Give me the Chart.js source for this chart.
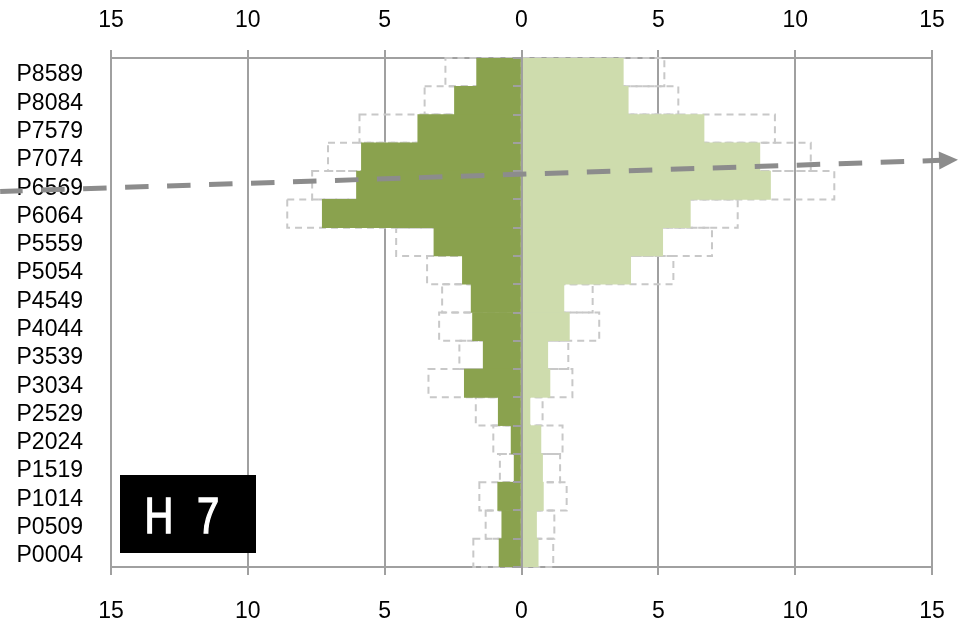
<!DOCTYPE html>
<html>
<head>
<meta charset="utf-8">
<script src="https://cdn.jsdelivr.net/npm/chart.js@4"></script>
<style>
  html, body { margin: 0; padding: 0; background: #fff; }
  #wrap { width: 961px; height: 629px; }
</style>
</head>
<body>
<div id="wrap"><canvas id="pyramid" width="961" height="629"></canvas></div>
<script>
// Classes d'âge (du haut vers le bas)
const ageGroups = ['P8589', 'P8084', 'P7579', 'P7074', 'P6569', 'P6064', 'P5559', 'P5054', 'P4549',
                   'P4044', 'P3539', 'P3034', 'P2529', 'P2024', 'P1519', 'P1014', 'P0509', 'P0004'];

// Côté gauche (vert foncé) : valeurs actuelles et période précédente (pointillés)
const leftNow  = [1.64, 2.45, 3.79, 5.85, 6.03, 7.28, 3.20, 2.16, 1.84, 1.79, 1.40, 2.09, 0.85, 0.38, 0.27, 0.87, 0.72, 0.82];
const leftPrev = [2.78, 3.54, 5.92, 7.07, 7.65, 8.56, 4.58, 3.45, 2.90, 3.01, 2.27, 3.40, 1.67, 1.03, 0.79, 1.54, 1.31, 1.76];

// Côté droit (vert clair)
const rightNow  = [3.72, 3.90, 6.67, 8.71, 9.10, 6.17, 5.16, 3.99, 1.55, 1.75, 0.96, 1.04, 0.31, 0.71, 0.77, 0.80, 0.55, 0.61];
const rightPrev = [5.22, 5.73, 9.26, 10.57, 11.43, 7.90, 6.96, 5.55, 2.60, 2.84, 1.71, 1.86, 0.77, 1.50, 1.41, 1.65, 1.20, 1.16];

// Axe horizontal
const axisMin = -15, axisMax = 15, axisStep = 5;

// Flèche de tendance (valeur x, indice de catégorie)
const trendFrom = [-19.05, 4.22];
const trendTo   = [15.95, 3.10];

const panelLabel = ['H', '7'];

const GRID = '#a0a0a0';
const FONT = { family: '"Liberation Sans", Arial, sans-serif', size: 23 };

// Rectangles en pointillés pour la période précédente
const dashedBars = {
    id: 'dashedBars',
    afterDatasetDraw(chart, args) {
        const ds = chart.data.datasets[args.index];
        if (!ds.dashed) return;
        const ctx = chart.ctx;
        ctx.save();
        ctx.strokeStyle = '#c8c8c8';
        ctx.lineWidth = 2;
        ctx.setLineDash([7, 5]);
        args.meta.data.forEach(bar => {
            const p = bar.getProps(['x', 'y', 'base', 'height'], true);
            const left = Math.min(p.x, p.base);
            ctx.strokeRect(left, p.y - p.height / 2, Math.abs(p.x - p.base), p.height);
        });
        ctx.restore();
    }
};

// Flèche grise et étiquette "H 7"
const overlay = {
    id: 'overlay',
    afterDraw(chart) {
        const ctx = chart.ctx;
        const xs = chart.scales.x, ys = chart.scales.y;
        const x1 = xs.getPixelForValue(trendFrom[0]), y1 = ys.getPixelForValue(trendFrom[1]);
        const x2 = xs.getPixelForValue(trendTo[0]),   y2 = ys.getPixelForValue(trendTo[1]);
        const ang = Math.atan2(y2 - y1, x2 - x1);
        const headLen = 19, headHalf = 9;
        const bx = x2 - headLen * Math.cos(ang), by = y2 - headLen * Math.sin(ang);

        ctx.save();
        ctx.strokeStyle = '#8c8c8c';
        ctx.fillStyle = '#8c8c8c';
        ctx.lineWidth = 5;
        ctx.setLineDash([23.5, 18.5]);
        ctx.lineDashOffset = 1;
        ctx.beginPath();
        ctx.moveTo(x1, y1);
        ctx.lineTo(bx + 2 * Math.cos(ang), by + 2 * Math.sin(ang));
        ctx.stroke();
        ctx.setLineDash([]);
        ctx.beginPath();
        ctx.moveTo(x2, y2);
        ctx.lineTo(bx - headHalf * Math.sin(ang), by + headHalf * Math.cos(ang));
        ctx.lineTo(bx + headHalf * Math.sin(ang), by - headHalf * Math.cos(ang));
        ctx.closePath();
        ctx.fill();

        // boîte noire
        const area = chart.chartArea;
        const bxl = area.left + 9, btop = area.bottom - 92;
        ctx.fillStyle = '#000';
        ctx.fillRect(bxl, btop, 136, 78);
        ctx.fillStyle = '#fff';
        ctx.strokeStyle = '#fff';
        ctx.lineWidth = 1.4;
        ctx.font = '50px "Liberation Sans", Arial, sans-serif';
        ctx.textAlign = 'center';
        ctx.textBaseline = 'alphabetic';
        [[39, panelLabel[0]], [88, panelLabel[1]]].forEach(([dx, t]) => {
            ctx.save();
            ctx.translate(bxl + dx, btop + 58);
            ctx.scale(0.8, 1);
            ctx.fillText(t, 0, 0);
            ctx.strokeText(t, 0, 0);
            ctx.restore();
        });
        ctx.restore();
    }
};

const barCommon = { grouped: false, barPercentage: 1, categoryPercentage: 1, borderWidth: 0 };

// hauteur fixe des axes horizontaux, sans marge automatique
function fitX(h) {
    return s => { s.height = h; s.paddingLeft = 0; s.paddingRight = 0; };
}

const ctx = document.getElementById('pyramid').getContext('2d');
const pyramid = new Chart(ctx, {
    type: 'bar',
    data: {
        labels: ageGroups,
        datasets: [
            { ...barCommon, data: leftNow.map(v => -v), backgroundColor: '#8aa24e' },
            { ...barCommon, data: rightNow, backgroundColor: '#cedcad' },
            { ...barCommon, data: leftPrev.map(v => -v), backgroundColor: 'rgba(0,0,0,0)', dashed: true },
            { ...barCommon, data: rightPrev, backgroundColor: 'rgba(0,0,0,0)', dashed: true }
        ]
    },
    options: {
        indexAxis: 'y',
        responsive: false,
        animation: false,
        layout: { padding: { left: 0, right: 29, top: 0, bottom: 0 } },
        plugins: { legend: { display: false }, tooltip: { enabled: false } },
        scales: {
            x: {
                type: 'linear', position: 'bottom',
                min: axisMin, max: axisMax,
                ticks: { stepSize: axisStep, color: '#000', font: FONT, padding: 23,
                         callback: v => Math.abs(v) },
                grid: { color: GRID, lineWidth: 2, tickLength: 8 },
                border: { color: GRID, width: 2 },
                afterFit: fitX(62)
            },
            x2: {
                type: 'linear', position: 'top',
                min: axisMin, max: axisMax,
                ticks: { stepSize: axisStep, color: '#000', font: FONT, padding: 16,
                         callback: v => Math.abs(v) },
                grid: { color: GRID, lineWidth: 2, tickLength: 8, drawOnChartArea: false },
                border: { color: GRID, width: 2 },
                afterFit: fitX(58)
            },
            y: {
                type: 'category', position: 'left', offset: true,
                ticks: { color: '#000', font: FONT, padding: 28, autoSkip: false, labelOffset: 3 },
                grid: { display: false, drawTicks: false },
                border: { display: false },
                afterFit: s => { s.width = 111; }
            },
            yc: {
                type: 'category', position: { x: 0 }, offset: true,
                ticks: { display: false },
                grid: { offset: true, drawOnChartArea: false, color: GRID, lineWidth: 2, tickLength: 8, z: 1 },
                border: { color: GRID, width: 2, z: 1 }
            }
        }
    },
    plugins: [dashedBars, overlay]
});
</script>
</body>
</html>
